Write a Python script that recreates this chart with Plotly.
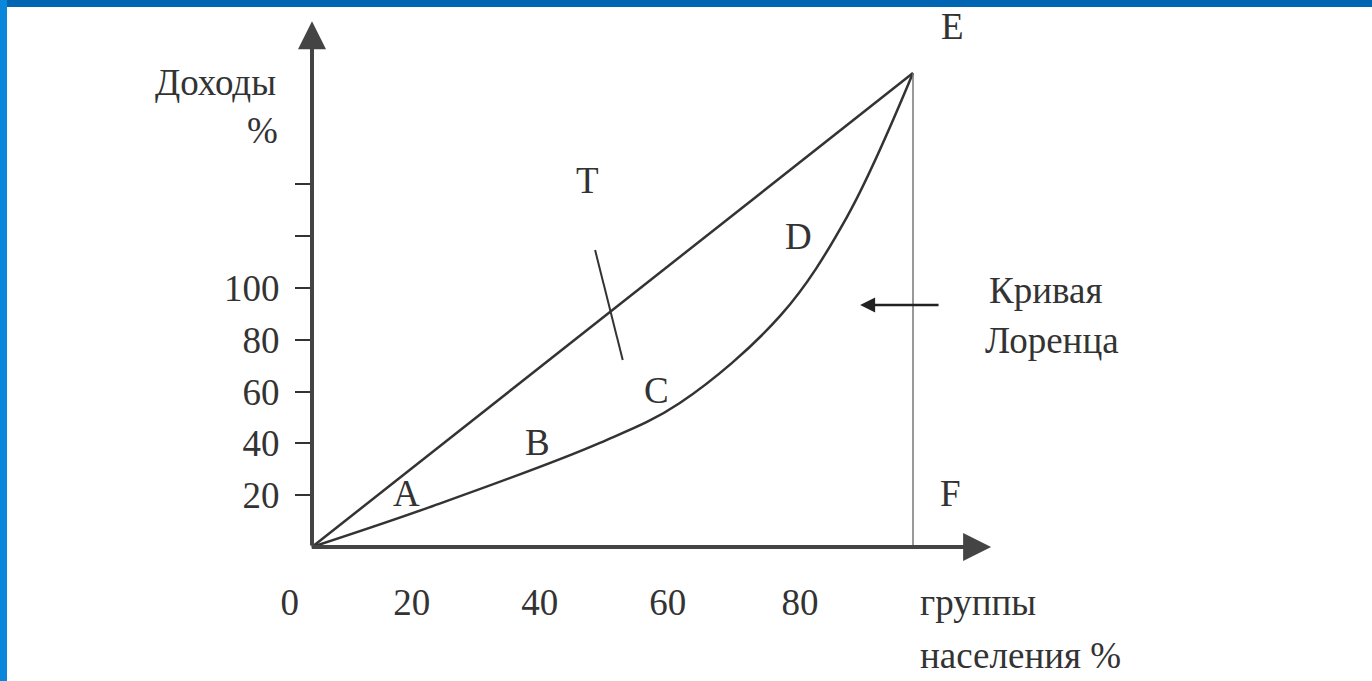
import plotly.graph_objects as go

# population share (%) vs income share, diagram units
line_x = [0, 100]
line_y = [0, 183]

lorenz_x = [0, 19.6, 47.9, 61.2, 78.0, 89.0, 100]
lorenz_y = [0, 15.4, 40.2, 55.6, 89.5, 127.4, 183]

cross_x = [47.1, 51.7]
cross_y = [114.7, 72.2]

y_ticks = [20, 40, 60, 80, 100, 120, 140]
y_ticktext = ["20", "40", "60", "80", "100", "", ""]
x_label_pos = [-3.7, 16.6, 37.9, 59.2, 81.2]
x_ticktext = ["0", "20", "40", "60", "80"]

W, H = 1372, 681
FONT = "Liberation Serif"
INK = "#333333"

# pixel scale of the diagram
px_x, px_y = 6.01, 2.59
x0 = -312 / px_x
y0 = -(H - 547) / px_y

fig = go.Figure()

fig.add_trace(go.Scatter(x=line_x, y=line_y, mode="lines",
                         line=dict(color=INK, width=2.5), hoverinfo="skip"))
fig.add_trace(go.Scatter(x=lorenz_x, y=lorenz_y, mode="lines",
                         line=dict(color=INK, width=2.5, shape="spline", smoothing=1.0),
                         hoverinfo="skip"))
fig.add_trace(go.Scatter(x=cross_x, y=cross_y, mode="lines",
                         line=dict(color=INK, width=2), hoverinfo="skip"))
# E-F vertical
fig.add_trace(go.Scatter(x=[line_x[-1], line_x[-1]], y=[0, line_y[-1]], mode="lines",
                         line=dict(color="#777777", width=1.5), hoverinfo="skip"))

annotations = []
# axes with arrowheads
annotations.append(dict(x=0, y=203, ax=0, ay=0, xref="x", yref="y", axref="x", ayref="y",
                        showarrow=True, arrowhead=2, arrowsize=1.4, arrowwidth=4,
                        arrowcolor="#444444", text=""))
annotations.append(dict(x=113, y=0, ax=-0.3, ay=0, xref="x", yref="y", axref="x", ayref="y",
                        showarrow=True, arrowhead=2, arrowsize=1.4, arrowwidth=4,
                        arrowcolor="#444444", text=""))
# pointer to the curve
annotations.append(dict(x=91.2, y=93.4, ax=104.5, ay=93.4, xref="x", yref="y",
                        axref="x", ayref="y", showarrow=True, arrowhead=2,
                        arrowsize=1.2, arrowwidth=2.5, arrowcolor="#222222", text=""))


def label(text, x, y, xanchor="center", size=37):
    annotations.append(dict(x=x, y=y, xref="x", yref="y", text=text, showarrow=False,
                            xanchor=xanchor, yanchor="middle",
                            font=dict(family=FONT, size=size, color=INK)))


label("E", 106.6, 200.8)
label("F", 106.2, 20.8)
label("A", 15.8, 20.8)
label("B", 37.6, 40.5)
label("C", 57.4, 60.6)
label("D", 81.0, 119.7)
label("T", 45.9, 141.7)
label("Доходы", -16.1, 179.2)
label("%", -8.3, 161.0)
label("Кривая", 122.0, 99.2)
label("Лоренца", 123.1, 79.9)
label("группы", 100.8, -21.6, xanchor="left")
label("населения %", 100.8, -41.7, xanchor="left")

fig.update_layout(
    width=W, height=H,
    margin=dict(l=0, r=0, t=0, b=0),
    paper_bgcolor="white", plot_bgcolor="white",
    showlegend=False,
    annotations=annotations,
    xaxis=dict(range=[x0, x0 + W / px_x], showgrid=False, zeroline=False, showline=False,
               anchor="free", position=(H - 547) / H,
               tickvals=x_label_pos, ticktext=x_ticktext, ticks="",
               ticklabelstandoff=30,
               tickfont=dict(family=FONT, size=37, color=INK)),
    yaxis=dict(range=[y0, y0 + H / px_y], showgrid=False, zeroline=False, showline=False,
               anchor="free", position=312 / W,
               tickvals=y_ticks, ticktext=y_ticktext, ticks="outside",
               ticklen=17, tickwidth=2, tickcolor=INK,
               ticklabelstandoff=8,
               tickfont=dict(family=FONT, size=37, color=INK)),
    shapes=[
        dict(type="rect", xref="paper", yref="paper", x0=0, x1=1, y0=1 - 7 / H, y1=1,
             fillcolor="#0066B3", line=dict(width=0)),
        dict(type="rect", xref="paper", yref="paper", x0=0, x1=7 / W, y0=0, y1=1,
             fillcolor="#0A86DA", line=dict(width=0)),
    ],
)

fig.write_html("out.html", config={"displayModeBar": False},
               post_script="document.body.style.margin='0';document.body.style.overflow='hidden';")
